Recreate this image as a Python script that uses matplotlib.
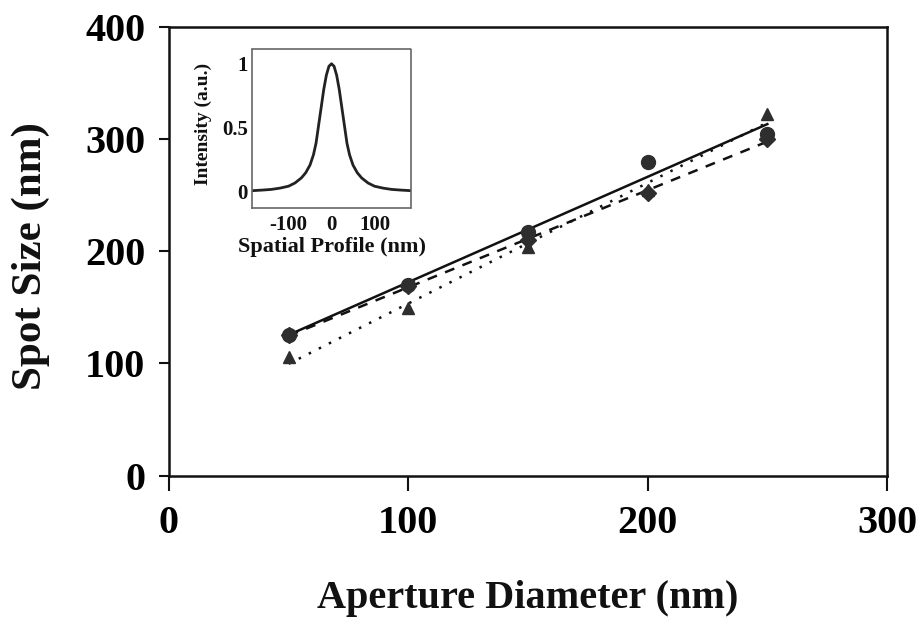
import numpy as np
import matplotlib
matplotlib.use("Agg")
import matplotlib.pyplot as plt

plt.rcParams['font.family'] = ['Liberation Serif', 'DejaVu Serif']
plt.rcParams['font.weight'] = 'bold'

# ---- data ----
aperture = [50, 100, 150, 200, 250]
spot_circle = [125, 170, 217, 280, 305]
spot_triangle = [106, 149, 204, 255, 322]
spot_diamond = [125, 169, 210, 252, 300]

x_ticks = [0, 100, 200, 300]
y_ticks = [0, 100, 200, 300, 400]

profile_x = [-185, -160, -140, -120, -100, -85, -70, -60, -50, -42, -36, -30, -24, -18, -12, -6, 0,
             6, 12, 18, 24, 30, 36, 42, 50, 60, 70, 85, 100, 120, 140, 160, 185]
profile_y = [0.01, 0.015, 0.02, 0.03, 0.045, 0.07, 0.11, 0.15, 0.21, 0.29, 0.38, 0.52, 0.66, 0.80, 0.91, 0.98, 1.0,
             0.98, 0.91, 0.80, 0.66, 0.52, 0.38, 0.29, 0.21, 0.15, 0.11, 0.07, 0.045, 0.03, 0.02, 0.015, 0.01]
inset_xticks = [-100, 0, 100]
inset_xticklabels = ['-100', '0', '100']
inset_yticks = [0, 0.5, 1]
inset_yticklabels = ['0', '0.5', '1']

ink = '#111111'
marker_col = '#2e2e2e'

fig = plt.figure(figsize=(9.22, 6.30), dpi=100)
ax = fig.add_axes([169/922, 1 - 475.5/630, (887-169)/922, (475.5-27)/630])

xs = np.array(aperture, dtype=float)
xfit = np.array([min(aperture), max(aperture)], dtype=float)

series = [
    (spot_triangle, '^', (0, (1, 3.5)), 9),
    (spot_diamond, 'D', (0, (4, 3.5)), 8),
    (spot_circle, 'o', '-', 10),
]
for ys, mk, ls, ms in series:
    p = np.polyfit(xs, np.array(ys, dtype=float), 1)
    ax.plot(xfit, np.polyval(p, xfit), linestyle=ls, color=ink, lw=1.8, zorder=2)
for ys, mk, ls, ms in series:
    ax.plot(aperture, ys, linestyle='none', marker=mk, ms=ms, color=marker_col,
            mec=marker_col, zorder=3)

ax.set_xlim(0, 300)
ax.set_ylim(0, 400)
ax.set_xticks(x_ticks)
ax.set_yticks(y_ticks)
ax.tick_params(axis='x', direction='out', length=11, width=1.5, color=ink, labelsize=29, pad=10)
ax.tick_params(axis='y', direction='out', length=7, width=1.5, color=ink, labelsize=29, pad=10)
for lab in ax.get_xticklabels() + ax.get_yticklabels():
    lab.set_fontweight('bold')
for s in ax.spines.values():
    s.set_linewidth(1.8)
    s.set_color(ink)

ax.set_xlabel('Aperture Diameter (nm)', fontsize=29, fontweight='bold', color=ink)
ax.set_ylabel('Spot Size (nm)', fontsize=31, fontweight='bold', color=ink)
ax.xaxis.set_label_coords(0.5, -0.232)
ax.yaxis.set_label_coords(-0.166, 0.49)

# ---- inset ----
ins = fig.add_axes([252/922, 1 - 208/630, (411-252)/922, (208-49)/630])
ins.plot(profile_x, profile_y, color='#222222', lw=2.0)
ins.set_xlim(-185, 185)
ins.set_ylim(-0.125, 1.115)
ins.set_xticks(inset_xticks)
ins.set_xticklabels(inset_xticklabels)
ins.set_yticks(inset_yticks)
ins.set_yticklabels(inset_yticklabels)
ins.tick_params(axis='x', length=0, labelsize=15, pad=5, colors=ink)
ins.tick_params(axis='y', length=0, labelsize=15, pad=3, colors=ink)
for lab in ins.get_xticklabels() + ins.get_yticklabels():
    lab.set_fontweight('bold')
for s in ins.spines.values():
    s.set_linewidth(1.2)
    s.set_color('#666666')
    s.set_linestyle((0, (1, 1)))
ins.set_xlabel('Spatial Profile (nm)', fontsize=16, fontweight='bold', color=ink)
ins.set_ylabel('Intensity (a.u.)', fontsize=14, fontweight='bold', color=ink)
ins.xaxis.set_label_coords(0.5, -0.18)
ins.yaxis.set_label_coords(-0.25, 0.53)

fig.savefig('out.png', dpi=100)
